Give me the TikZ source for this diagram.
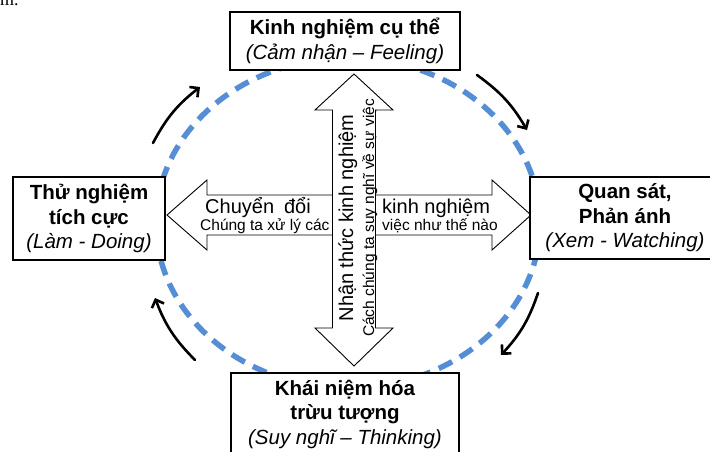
\documentclass[tikz,border=0pt]{standalone}
\usepackage{fontspec}
\setmainfont{Liberation Sans}
\newfontfamily\serifpart{Liberation Serif}
\usetikzlibrary{arrows.meta}
\definecolor{cycleblue}{RGB}{85,142,213}
\begin{document}
\begin{tikzpicture}[x=1pt,y=-1pt,
  stagebox/.style={draw=black, line width=1.1pt, fill=white, align=center,
    font=\fontsize{20.5}{24.5}\selectfont, inner sep=0pt},
  bigarrow/.style={draw=black, line width=0.9pt, fill=white, line join=miter},
  bigtext/.style={inner sep=0pt, font=\fontsize{20}{24}\selectfont},
  smalltext/.style={inner sep=0pt, font=\fontsize{15.5}{18}\selectfont},
  cyclearrow/.style={line width=2.6pt, line cap=round,
    -{Straight Barb[length=6.5pt,width=13pt]}}
]
\useasboundingbox (0,0) rectangle (710,451);

% fragment of preceding text
\begin{scope}
\clip (0,0) rectangle (710,451);
\node[anchor=base west, inner sep=0pt, font=\serifpart\fontsize{18}{20}\selectfont] (frag) at (0,5) {m.};
\end{scope}

% dashed cycle
\draw[cycleblue, line width=5.5pt, dash pattern=on 15pt off 9pt] (348,223) ellipse [x radius=192pt, y radius=165pt];

% horizontal double arrow
\draw[bigarrow] (167,215) -- (207,180) -- (207,195) -- (492,195) -- (492,180) -- (531,215)
  -- (492,250) -- (492,235) -- (207,235) -- (207,250) -- cycle;
% vertical double arrow
\draw[bigarrow] (354,74) -- (393,110) -- (375.5,110) -- (375.5,328) -- (393,328) -- (354,366)
  -- (315,328) -- (332.5,328) -- (332.5,110) -- (315,110) -- cycle;

% arrow texts
\node[bigtext, anchor=base west] (convA) at (205,213) {Chuyển\hspace{0.5em}đổi};
\node[smalltext, anchor=base west] (convB) at (200,230.5) {Chúng ta xử lý các};
\node[bigtext, anchor=base west] (convC) at (382,213) {kinh nghiệm};
\node[smalltext, anchor=base west] (convD) at (382,230.5) {việc như thế nào};
\node[bigtext, rotate=90, anchor=base] (percA) at (353,218) {Nhận thức kinh nghiệm};
\node[smalltext, rotate=90, anchor=base] (percB) at (374,218) {Cách chúng ta suy nghĩ về sự việc};

% stage boxes
\node[stagebox, minimum width=230pt, minimum height=58pt] (feel) at (345,41)
  {\textbf{Kinh nghiệm cụ thể}\\\textit{(Cảm nhận – Feeling)}};
\node[stagebox, minimum width=152pt, minimum height=83pt] (doing) at (89,218.5)
  {\textbf{Thử nghiệm}\\\textbf{tích cực}\\\textit{(Làm - Doing)}};
\node[stagebox, minimum width=190pt, minimum height=82pt] (watch) at (625,218)
  {\textbf{Quan sát,}\\\textbf{Phản ánh}\\\textit{(Xem - Watching)}};
\node[stagebox, minimum width=228pt, minimum height=82pt] (think) at (345,414)
  {\textbf{Khái niệm hóa}\\\textbf{trừu tượng}\\\textit{(Suy nghĩ – Thinking)}};

% cycle direction arrows
\coordinate (a1s) at (153,143); \coordinate (a1e) at (200,87);
\coordinate (a2s) at (477,75);  \coordinate (a2e) at (527,130);
\coordinate (a3s) at (538,293); \coordinate (a3e) at (501,355);
\coordinate (a4s) at (195,360); \coordinate (a4e) at (155,298);
\draw[cyclearrow] (a1s) to[bend left=12] (a1e);
\draw[cyclearrow] (a2s) to[bend left=12] (a2e);
\draw[cyclearrow] (a3s) to[bend left=12] (a3e);
\draw[cyclearrow] (a4s) to[bend left=12] (a4e);
\end{tikzpicture}
\end{document}
